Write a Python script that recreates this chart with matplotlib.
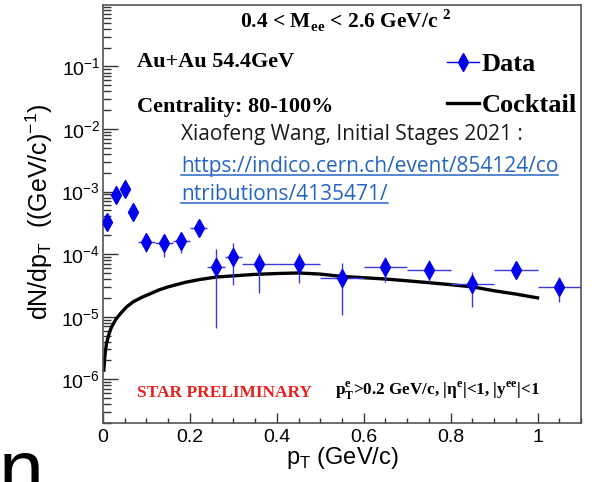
import numpy as np
import matplotlib
matplotlib.use("Agg")
import matplotlib.pyplot as plt
from matplotlib.ticker import LogLocator, NullFormatter, MultipleLocator
from matplotlib.font_manager import FontProperties
from matplotlib.lines import Line2D

plt.rcParams["font.family"] = ["Liberation Sans", "DejaVu Sans"]

# data points (pT bin centres, half widths, yield and error band limits)
pt = [0.01, 0.03, 0.05, 0.07, 0.10, 0.14, 0.18, 0.22, 0.26, 0.30,
      0.36, 0.45, 0.55, 0.65, 0.75, 0.85, 0.95, 1.05]
pt_halfwidth = [0.01, 0.01, 0.01, 0.01, 0.02, 0.02, 0.02, 0.02, 0.02, 0.02,
                0.04, 0.05, 0.05, 0.05, 0.05, 0.05, 0.05, 0.05]
yield_data = [3.25e-4, 8.8e-4, 1.1e-3, 4.7e-4, 1.55e-4, 1.5e-4, 1.6e-4, 2.6e-4, 6.3e-5, 9.0e-5,
              6.9e-5, 6.9e-5, 4.1e-5, 6.2e-5, 5.5e-5, 3.3e-5, 5.5e-5, 3.0e-5]
yield_low = [3.0e-4, 8.2e-4, 1.0e-3, 4.3e-4, 1.08e-4, 9.0e-5, 1.04e-4, 2.2e-4, 6.7e-6, 3.2e-5,
             2.4e-5, 3.5e-5, 1.05e-5, 3.6e-5, 3.6e-5, 1.45e-5, 4.2e-5, 1.7e-5]
yield_high = [3.5e-4, 9.4e-4, 1.2e-3, 5.1e-4, 2.0e-4, 1.9e-4, 1.95e-4, 3.0e-4, 1.2e-4, 1.5e-4,
              1.04e-4, 1.04e-4, 7.2e-5, 8.9e-5, 8.0e-5, 5.2e-5, 7.2e-5, 4.3e-5]

# cocktail curve
pt_cocktail = [0.002, 0.004, 0.006, 0.008, 0.012, 0.016, 0.02, 0.03, 0.04, 0.055, 0.07,
               0.09, 0.11, 0.13, 0.15, 0.19, 0.22, 0.26, 0.30, 0.35, 0.40, 0.45, 0.50,
               0.55, 0.60, 0.65, 0.70, 0.75, 0.80, 0.85, 0.90, 0.95, 1.00]
yield_cocktail = [1.4e-6, 2.2e-6, 3.0e-6, 3.7e-6, 4.8e-6, 5.9e-6, 6.9e-6, 9.2e-6, 1.12e-5,
                  1.45e-5, 1.74e-5, 2.05e-5, 2.35e-5, 2.7e-5, 3.0e-5, 3.55e-5, 3.9e-5,
                  4.3e-5, 4.5e-5, 4.75e-5, 4.9e-5, 5.0e-5, 4.8e-5, 4.4e-5, 4.2e-5, 4.0e-5,
                  3.75e-5, 3.5e-5, 3.25e-5, 3.0e-5, 2.6e-5, 2.3e-5, 2.0e-5]

y = np.array(yield_data)
yerr = [y - np.array(yield_low), np.array(yield_high) - y]

data_color = "#0000ee"
link_color = "#2465c2"

fig = plt.figure(figsize=(5.94, 4.82), dpi=100)
ax = fig.add_axes([103 / 594, 1 - 423 / 482, 478 / 594, 418 / 482])

ax.errorbar(pt, yield_data, xerr=pt_halfwidth, yerr=yerr, fmt="d", color=data_color,
            ecolor="#3a3ad8", elinewidth=1.0, markersize=9, capsize=0, zorder=3)
line, = ax.plot(pt_cocktail, yield_cocktail, color="black", linewidth=2.4, zorder=2)

ax.set_yscale("log")
ax.set_xlim(0.0, 1.1)
ax.set_ylim(2e-7, 0.96)
ax.yaxis.set_major_locator(LogLocator(base=10, numticks=100))
ax.yaxis.set_minor_locator(LogLocator(base=10, subs=np.arange(2, 10), numticks=100))
ax.yaxis.set_minor_formatter(NullFormatter())
ax.xaxis.set_minor_locator(MultipleLocator(0.05))
ax.set_xticks([0, 0.2, 0.4, 0.6, 0.8, 1.0])
ax.set_xticklabels(["0", "0.2", "0.4", "0.6", "0.8", "1"])

ax.tick_params(axis="both", which="both", direction="in", top=False, right=False,
               labelsize=14, color="#333333", width=1.0)
ax.tick_params(axis="y", which="major", length=11, pad=2)
ax.tick_params(axis="y", which="minor", length=6)
ax.tick_params(axis="x", which="major", length=7, pad=4.5)
ax.tick_params(axis="x", which="minor", length=3.5)
for side in ["left", "bottom", "top", "right"]:
    ax.spines[side].set_color("#555555")
    ax.spines[side].set_linewidth(1.2)

ax.set_ylabel(r"dN/dp$_{\mathregular{T}}$  ((GeV/c)$^{\mathregular{-1}}$)", fontsize=18)
ax.yaxis.set_label_coords(-0.10, 0.505)
ax.set_xlabel(r"p$_{\mathregular{T}}$ (GeV/c)", fontsize=17)
ax.xaxis.set_label_coords(0.5, -0.052)

serif_b = dict(family="Liberation Serif", weight="bold")
ax.text(0.287, 0.945, r"0.4 < M$_{\mathregular{ee}}$ < 2.6 GeV/c $^{\mathregular{2}}$",
        transform=ax.transAxes, ha="left", va="baseline", fontsize=15.5, **serif_b)
ax.text(0.071, 0.852, "Au+Au 54.4GeV", transform=ax.transAxes, ha="left", va="baseline",
        fontsize=16, **serif_b)
ax.text(0.071, 0.744, "Centrality: 80-100%", transform=ax.transAxes, ha="left", va="baseline",
        fontsize=16, **serif_b)
ax.text(0.071, 0.062, "STAR PRELIMINARY", transform=ax.transAxes, ha="left", va="baseline",
        fontsize=12.5, color="#e8201c", **serif_b)
ax.text(0.485, 0.067,
        r"p$_{\mathregular{T}}^{\mathregular{e}}$>0.2 GeV/c, |η$^{\mathregular{e}}$|<1, |y$^{\mathregular{ee}}$|<1",
        transform=ax.transAxes, ha="left", va="baseline", fontsize=12.3, **serif_b)

ax.text(0.163, 0.677, "Xiaofeng Wang, Initial Stages 2021 :", transform=ax.transAxes,
        ha="left", va="baseline", fontsize=15, family="Open Sans", color="#1a1a1a")
link_lines = ["https://indico.cern.ch/event/854124/co", "ntributions/4135471/"]
link_texts = []
for txt, yy in zip(link_lines, [0.600, 0.533]):
    link_texts.append(ax.text(0.163, yy, txt, transform=ax.transAxes, ha="left",
                              va="baseline", fontsize=15, family="Open Sans",
                              color=link_color))

data_handle = Line2D([], [], color=data_color, marker="d", markersize=9, linewidth=1.0)
leg = ax.legend([data_handle, line], ["Data", "Cocktail"], loc="upper left",
                bbox_to_anchor=(0.72, 0.886), frameon=False,
                prop=FontProperties(family="Liberation Serif", weight="bold", size=19),
                handlelength=1.2, handletextpad=0.1, labelspacing=0.65,
                borderpad=0, borderaxespad=0)

# fragment of slide text cut by the bottom edge
fig.text(-0.003, -0.031, "n", fontsize=58, ha="left", va="baseline")

# underline the link text
fig.canvas.draw()
inv = ax.transAxes.inverted()
for t in link_texts:
    bb = t.get_window_extent()
    x0, _ = inv.transform((bb.x0, 0))
    x1, _ = inv.transform((bb.x1, 0))
    yy = t.get_position()[1] - 3.0 / 418
    ax.add_line(Line2D([x0, x1], [yy, yy], transform=ax.transAxes, color=link_color,
                       linewidth=1.1))

fig.savefig("out.png", dpi=100)
